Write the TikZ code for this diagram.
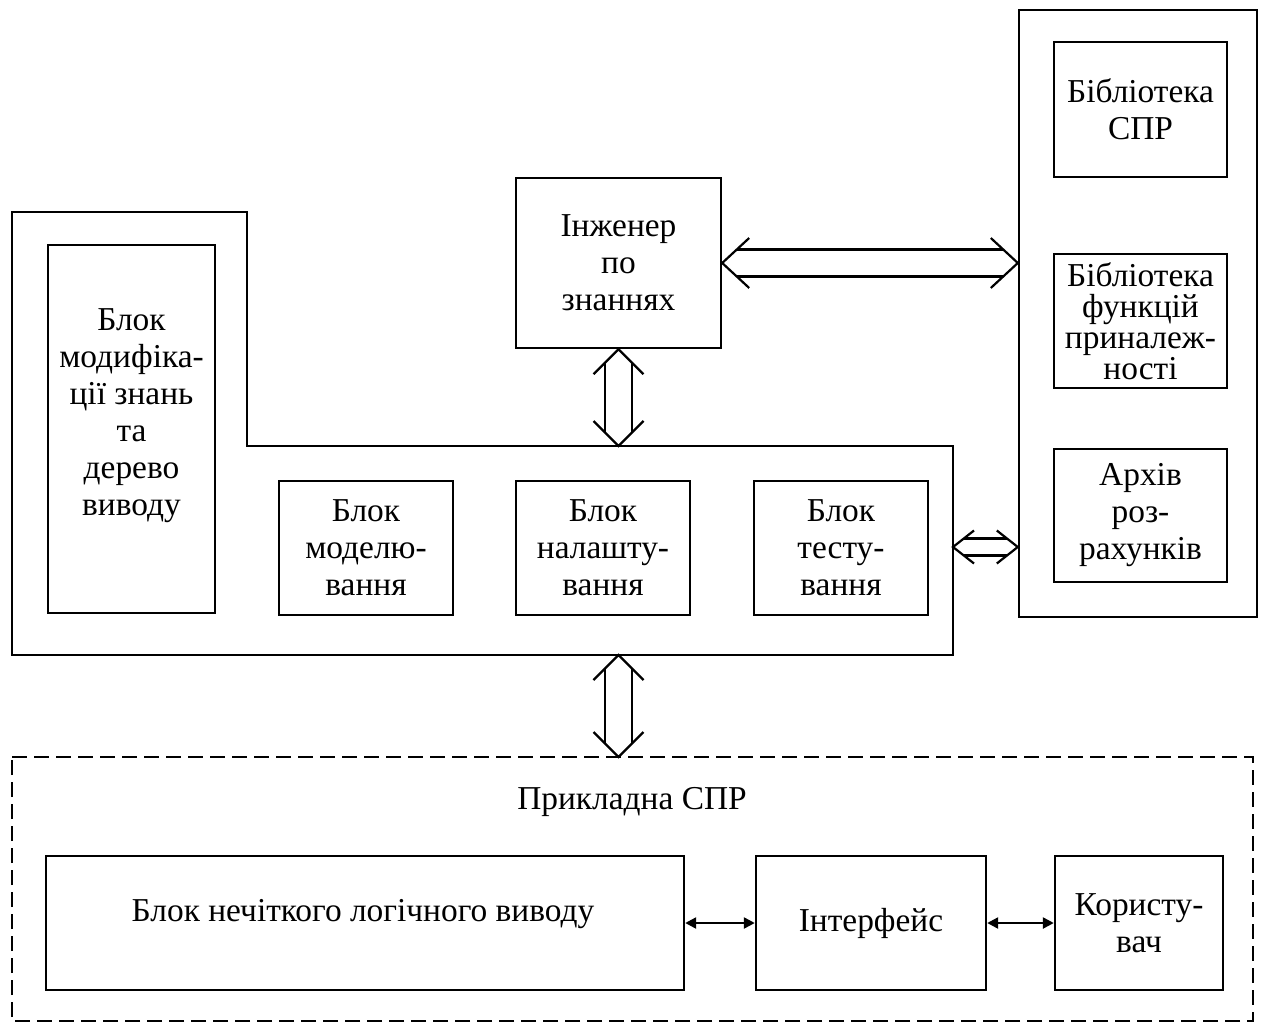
\documentclass[tikz,border=0pt]{standalone}
\usepackage{fontspec}
\setmainfont{Liberation Serif}
\usetikzlibrary{calc,arrows.meta}
\newcommand\varr[5]{% top, bottom, half line gap, half chevron width, tip length
 \draw[alw] ($(#1)+(-#4,#5)$) -- (#1) -- ($(#1)+(#4,#5)$);
 \draw[alw] ($(#2)+(-#4,-#5)$) -- (#2) -- ($(#2)+(#4,-#5)$);
 \draw[alw] ($(#1)+(-#3,{#5*#3/#4})$) -- ($(#2)+(-#3,{-#5*#3/#4})$);
 \draw[alw] ($(#1)+(#3,{#5*#3/#4})$) -- ($(#2)+(#3,{-#5*#3/#4})$);
}
\newcommand\harr[5]{% left, right, half line gap, half chevron width, tip length
 \draw[alw] ($(#1)+(#5,-#4)$) -- (#1) -- ($(#1)+(#5,#4)$);
 \draw[alw] ($(#2)+(-#5,-#4)$) -- (#2) -- ($(#2)+(-#5,#4)$);
 \draw[alw] ($(#1)+({#5*#3/#4},-#3)$) -- ($(#2)+({-#5*#3/#4},-#3)$);
 \draw[alw] ($(#1)+({#5*#3/#4},#3)$) -- ($(#2)+({-#5*#3/#4},#3)$);
}
\begin{document}
\begin{tikzpicture}[x=0.5pt,y=-0.5pt,
  lw/.style={line width=1.2pt},
  alw/.style={line width=1.1pt},
  box/.style 2 args={draw, line width=1.2pt, inner sep=0pt, align=center,
     minimum width=#1*0.5pt, minimum height=#2*0.5pt, font=\fontsize{16.7}{18.5}\selectfont},
  txt/.style={align=center, inner sep=0pt, font=\fontsize{16.7}{18.5}\selectfont},
  smallarr/.style={line width=1.2pt, {Triangle[length=5.5pt,width=5.5pt]}-{Triangle[length=5.5pt,width=5.5pt]}}]
\useasboundingbox (0,0) rectangle (1264,1023);
\clip (0,0) rectangle (1264,1023);
\fill[white] (0,0) rectangle (1264,1023);

% L-shaped outer block
\draw[lw] (12,212) -- (247,212) -- (247,446) -- (953,446) -- (953,655) -- (12,655) -- cycle;
\coordinate (stepc) at (618.5,446);
\coordinate (lbotc) at (618.5,655);
\coordinate (lrc) at (953,547);

\node[box={167}{368}] (mod) at (131.5,429) {};
\node[txt] (modt) at (131.5,416) {Блок\\модифіка-\\ції знань\\та\\дерево\\виводу};
\node[box={174}{134}] (model) at (366,548) {Блок\\моделю-\\вання};
\node[box={174}{134}] (nal) at (603,548) {Блок\\налашту-\\вання};
\node[box={174}{134}] (test) at (841,548) {Блок\\тесту-\\вання};

\node[box={205}{170}] (eng) at (618.5,263) {Інженер\\по\\знаннях};

% right block
\node[box={238}{607}] (lib) at (1138,313.5) {};
\node[box={173}{135}] (lspr) at (1140.5,109.5) {Бібліотека\\СПР};
\node[box={173}{134}, font=\fontsize{16.7}{15.5}\selectfont] (lfun) at (1140.5,321) {Бібліотека\\функцій\\приналеж-\\ності};
\node[box={173}{133}] (arch) at (1140.5,515.5) {Архів\\роз-\\рахунків};

% hollow double arrows
\varr{eng.south}{stepc}{13.5}{25}{25}
\coordinate (libl1) at (lib.west |- eng.east);
\harr{eng.east}{libl1}{13.5}{25}{27}
\coordinate (libl2) at (lib.west |- lrc);
\harr{lrc}{libl2}{8.5}{16.5}{21}

% applied DSS (dashed)
\draw[line width=1.2pt, dash pattern=on 7.5pt off 3.5pt] (12,757) -- (1253,757) -- (1253,1021) -- (12,1021) -- cycle;
\coordinate (dtopc) at (618.5,757);
\varr{lbotc}{dtopc}{13.5}{25}{25}
\node[txt] (appt) at (632,802) {Прикладна СПР};

\node[box={638}{134}] (nlv) at (365,923) {};
\node[txt] (nlvt) at (363,914) {Блок нечіткого логічного виводу};
\node[box={230}{134}] (intf) at (871,923) {Інтерфейс};
\node[box={168}{134}] (user) at (1139,923) {Користу-\\вач};

\draw[smallarr] (nlv.east) -- (intf.west);
\draw[smallarr] (intf.east) -- (user.west);
\end{tikzpicture}
\end{document}
